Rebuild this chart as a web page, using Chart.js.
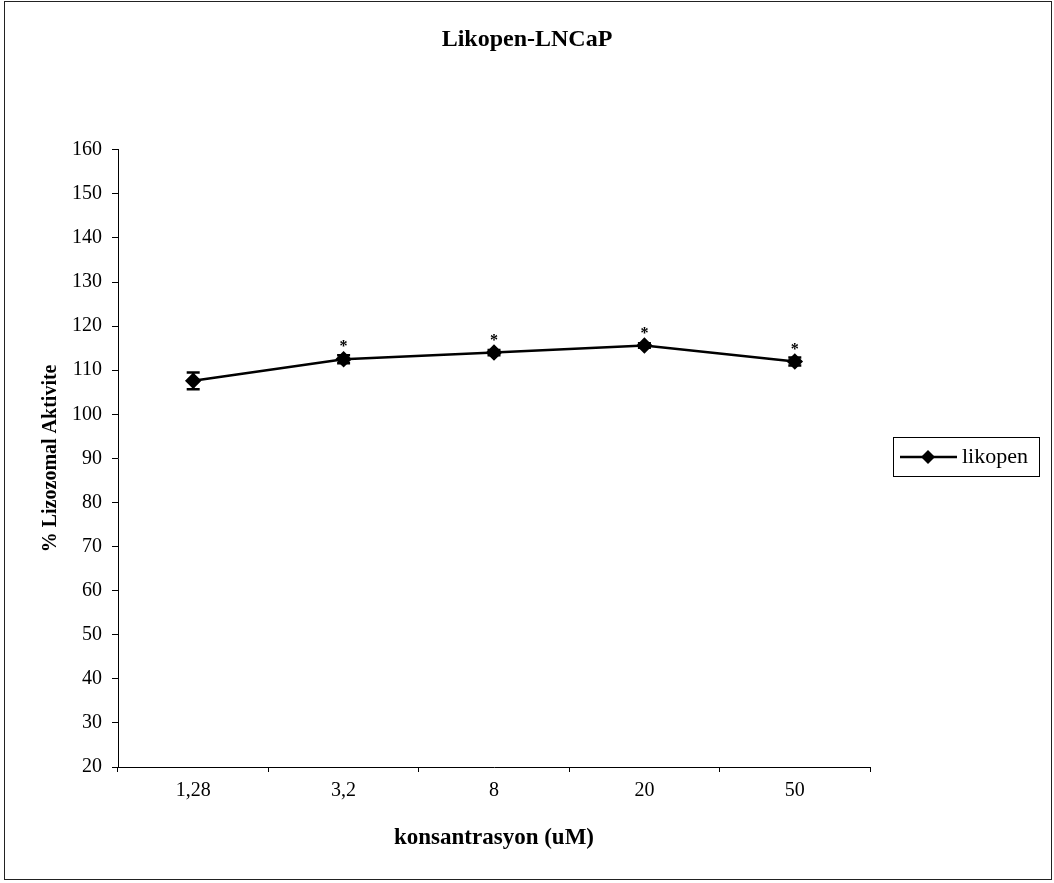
<!DOCTYPE html>
<html>
<head>
<meta charset="utf-8">
<script src="https://cdn.jsdelivr.net/npm/chart.js@4.4.0/dist/chart.umd.min.js"></script>
<style>
  html, body { margin: 0; padding: 0; background: #fff; }
  #wrap { position: relative; width: 1054px; height: 883px; }
  #frame { position: absolute; left: 4px; top: 1px; width: 1046px; height: 877px; border: 1px solid #222; pointer-events: none; }
  canvas { display: block; }
</style>
</head>
<body>
<div id="wrap">
  <canvas id="chart" width="1054" height="883"></canvas>
  <div id="frame"></div>
</div>
<script>
// chart data
var categories = ["1,28", "3,2", "8", "20", "50"];
var likopen = [107.6, 112.5, 114.0, 115.6, 112.0];
var likopenErr = [1.9, 0.9, 0.6, 0.5, 0.9];
var significant = [false, true, true, true, true];
var yMin = 20, yMax = 160, yStep = 10;

var serif = "'Liberation Serif', 'Times New Roman', serif";

// error bars + asterisks
var errorBars = {
  id: "errorBars",
  afterDatasetsDraw: function (chart) {
    var ctx = chart.ctx;
    var meta = chart.getDatasetMeta(0);
    var y = chart.scales.y;
    ctx.save();
    ctx.strokeStyle = "#000";
    ctx.fillStyle = "#000";
    ctx.lineWidth = 2.5;
    for (var i = 0; i < likopen.length; i++) {
      var px = meta.data[i].x;
      var top = y.getPixelForValue(likopen[i] + likopenErr[i]);
      var bot = y.getPixelForValue(likopen[i] - likopenErr[i]);
      ctx.beginPath();
      ctx.moveTo(px, top); ctx.lineTo(px, bot);
      ctx.moveTo(px - 6.5, top); ctx.lineTo(px + 6.5, top);
      ctx.moveTo(px - 6.5, bot); ctx.lineTo(px + 6.5, bot);
      ctx.stroke();
      if (significant[i]) {
        ctx.font = "bold 16px " + serif;
        ctx.textAlign = "center";
        ctx.textBaseline = "middle";
        ctx.fillText("*", px, y.getPixelForValue(likopen[i]) - 12);
      }
    }
    ctx.restore();
  }
};

// boxed legend on the right
var boxLegend = {
  id: "boxLegend",
  afterDraw: function (chart) {
    var ctx = chart.ctx;
    ctx.save();
    ctx.strokeStyle = "#000";
    ctx.fillStyle = "#000";
    ctx.lineWidth = 1;
    ctx.strokeRect(893.5, 437.5, 146, 39);
    ctx.lineWidth = 2.5;
    ctx.beginPath();
    ctx.moveTo(900, 457); ctx.lineTo(957, 457);
    ctx.stroke();
    ctx.beginPath();
    ctx.moveTo(928, 450); ctx.lineTo(935, 457); ctx.lineTo(928, 464); ctx.lineTo(921, 457);
    ctx.closePath();
    ctx.fill();
    ctx.font = "22px " + serif;
    ctx.textAlign = "left";
    ctx.textBaseline = "middle";
    ctx.fillText("likopen", 962, 457);
    ctx.restore();
  }
};

new Chart(document.getElementById("chart"), {
  type: "line",
  data: {
    labels: categories,
    datasets: [{
      label: "likopen",
      data: likopen,
      borderColor: "#000",
      backgroundColor: "#000",
      borderWidth: 2.5,
      pointStyle: "rectRot",
      pointRadius: 6.5,
      pointBackgroundColor: "#000",
      pointBorderColor: "#000",
      tension: 0
    }]
  },
  options: {
    responsive: false,
    animation: false,
    layout: { padding: 0 },
    plugins: {
      legend: { display: false },
      tooltip: { enabled: false },
      title: {
        display: true,
        text: "Likopen-LNCaP",
        color: "#000",
        font: { family: serif, size: 24, weight: "bold" },
        padding: { top: 25, bottom: 96 }
      }
    },
    scales: {
      x: {
        offset: true,
        grid: { offset: true, drawOnChartArea: false, tickLength: 5, color: "#000" },
        border: { display: true, color: "#000", width: 1 },
        ticks: { color: "#000", padding: 7, font: { family: serif, size: 20 } },
        title: {
          display: true,
          text: "konsantrasyon (uM)",
          color: "#000",
          font: { family: serif, size: 23, weight: "bold" },
          padding: { top: 0, bottom: 31 }
        },
        afterFit: function (scale) { scale.height = 116; }
      },
      y: {
        min: yMin,
        max: yMax,
        grid: { drawOnChartArea: false, tickLength: 6, color: "#000" },
        border: { display: true, color: "#000", width: 1 },
        ticks: { stepSize: yStep, color: "#000", padding: 10, font: { family: serif, size: 20 } },
        title: {
          display: true,
          text: "% Lizozomal Aktivite",
          color: "#000",
          font: { family: serif, size: 20, weight: "bold" },
          padding: { top: 39, bottom: 0 }
        },
        afterFit: function (scale) { scale.width = 118; }
      },
      // empty right-hand space that holds the legend
      side: {
        position: "right",
        min: 0,
        max: 1,
        ticks: { display: false },
        grid: { display: false },
        border: { display: false },
        afterFit: function (scale) { scale.width = 184; }
      }
    }
  },
  plugins: [errorBars, boxLegend]
});
</script>
</body>
</html>
